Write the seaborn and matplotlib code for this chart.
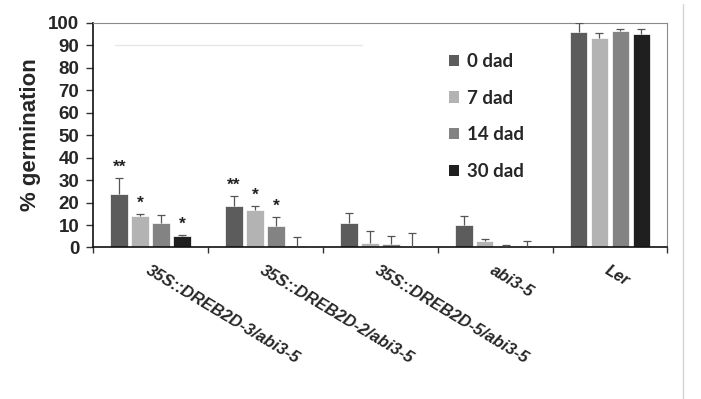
import numpy as np
import pandas as pd
import seaborn as sns
import matplotlib.pyplot as plt
from matplotlib.lines import Line2D
from matplotlib.patches import Patch

# Genotypes (x categories) and seed-storage time points (hue levels)
genotypes = ["35S::DREB2D-3/abi3-5", "35S::DREB2D-2/abi3-5",
             "35S::DREB2D-5/abi3-5", "abi3-5", "Ler"]
timepoints = ["0 dad", "7 dad", "14 dad", "30 dad"]

# Mean germination (%) per time point
germ_0 = [24.0, 18.5, 10.7, 10.0, 96.0]
germ_7 = [14.0, 16.5, 1.8, 3.0, 93.0]
germ_14 = [11.0, 9.7, 1.5, 0.5, 96.3]
germ_30 = [5.3, 0.8, 0.3, 0.8, 95.0]

# Standard errors (upper bars)
err_0 = [7.0, 4.3, 4.5, 4.0, 4.0]
err_7 = [1.0, 1.8, 5.5, 0.6, 2.2]
err_14 = [3.4, 3.7, 3.5, 0.4, 0.9]
err_30 = [0.4, 4.0, 6.0, 2.0, 2.0]

# Significance marks
sig_0 = ["**", "**", "", "", ""]
sig_7 = ["*", "*", "", "", ""]
sig_14 = ["", "*", "", "", ""]
sig_30 = ["*", "", "", "", ""]

bar_colors = ["#5c5c5c", "#b3b3b3", "#838383", "#1f1f1f"]

values = [germ_0, germ_7, germ_14, germ_30]
errors = [err_0, err_7, err_14, err_30]
marks = [sig_0, sig_7, sig_14, sig_30]

df = pd.DataFrame({
    "genotype": np.repeat([genotypes], len(timepoints), axis=0).ravel(),
    "time": np.repeat(timepoints, len(genotypes)),
    "germination": np.concatenate(values),
})

sns.set_style("white")
plt.rcParams["font.family"] = ["Liberation Sans", "DejaVu Sans"]

fig = plt.figure(figsize=(7.01, 3.99), dpi=100)
ax = fig.add_axes([0.1331, 0.3797, 0.8189, 0.5639])

sns.barplot(data=df, x="genotype", y="germination", hue="time",
            order=genotypes, hue_order=timepoints, palette=bar_colors,
            width=0.73, gap=0.16, errorbar=None, legend=False,
            edgecolor="white", linewidth=0.5, ax=ax)

# Upper error bars and significance asterisks
for cont, errs, sigs in zip(ax.containers, errors, marks):
    for patch, e, s in zip(cont.patches, errs, sigs):
        xc = patch.get_x() + patch.get_width() / 2
        top = patch.get_height()
        ax.vlines(xc, top, top + e, color="#555555", lw=0.9, zorder=3)
        ax.plot([xc], [top + e], marker="_", markersize=6,
                markeredgewidth=0.9, color="#555555", zorder=3)
        if s:
            ax.text(xc, top + e + 1.5, s, ha="center", va="bottom",
                    fontsize=12.5, fontweight="bold", color="#222222")

ax.set_xlim(-0.5, len(genotypes) - 0.5)
ax.set_ylim(0, 100)
ax.set_yticks(np.arange(0, 101, 10))
ax.tick_params(axis="y", which="major", direction="out", length=5,
               width=1, color="#333333", labelsize=13.5, pad=5, left=True)
for lab in ax.get_yticklabels():
    lab.set_fontweight("bold")

# Category labels starting at group centres, boundary ticks between them
ax.set_xticks(range(len(genotypes)))
ax.set_xticklabels(genotypes, rotation=-31, ha="left", va="top",
                   rotation_mode="anchor", fontsize=12,
                   fontweight="bold", fontstyle="italic")
ax.tick_params(axis="x", which="major", length=0, pad=11)
ax.set_xticks(np.arange(-0.5, len(genotypes) + 0.5, 1), minor=True)
ax.tick_params(axis="x", which="minor", direction="out", length=4,
               width=1, color="#333333", bottom=True)
for lab in ax.get_xticklabels():
    lab.set_x(lab.get_position()[0])

ax.set_xlabel("")
ax.set_ylabel("% germination", fontsize=16, fontweight="bold", labelpad=5)

for side in ["left", "bottom"]:
    ax.spines[side].set_color("#111111")
    ax.spines[side].set_linewidth(1.2)
for side in ["top", "right"]:
    ax.spines[side].set_color("#8a8a8a")
    ax.spines[side].set_linewidth(0.8)

# faint gridline fragment
ax.axhline(90, xmin=0.038, xmax=0.468, color="#e6e6e6", lw=1, zorder=0)

handles = [Patch(facecolor=c, edgecolor="none") for c in bar_colors]
ax.legend(handles, timepoints, loc="upper left",
          bbox_to_anchor=(0.59, 0.94), frameon=False,
          prop={"family": "Lato", "weight": "bold", "size": 13.5},
          handlelength=0.55, handleheight=0.55, handletextpad=0.4,
          labelspacing=1.05)

# page edge on the right
fig.add_artist(Line2D([683 / 701, 683 / 701], [0.0, 0.99],
                      transform=fig.transFigure, color="#d4d4d4", lw=1))

fig.savefig("out.png", dpi=100, facecolor="white")
